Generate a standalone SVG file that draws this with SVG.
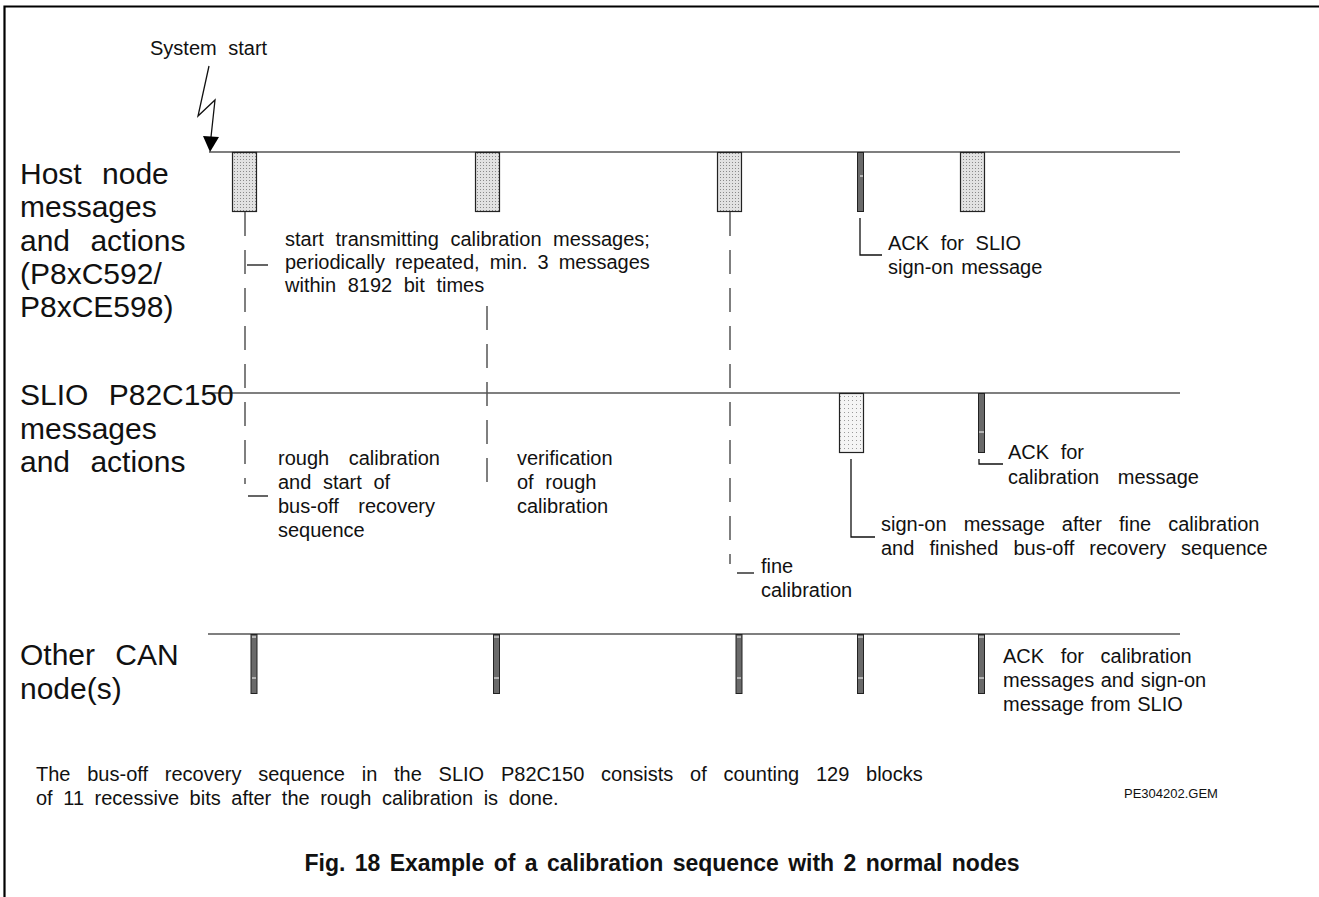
<svg xmlns="http://www.w3.org/2000/svg" width="1319" height="897" viewBox="0 0 1319 897">
<defs>
<style>
.t{font-family:"Liberation Sans",Arial,sans-serif;font-size:20px;word-spacing:6px;fill:#111}
.big{font-family:"Liberation Sans",Arial,sans-serif;font-size:30px;word-spacing:12px;fill:#111}
.cap{font-family:"Liberation Sans",Arial,sans-serif;font-size:23px;font-weight:bold;word-spacing:3px;fill:#111}
.small{font-family:"Liberation Sans",Arial,sans-serif;font-size:13px;fill:#111}
.lane{stroke:#555;stroke-width:1.6}
.box{fill:url(#dots);stroke:#222;stroke-width:1.2}
.box2{fill:url(#dotsL);stroke:#222;stroke-width:1.2}
.bar{fill:#6a6a6a;stroke:#222;stroke-width:1}
.tick{stroke:#fff;stroke-width:1}
.dash{stroke:#555;stroke-width:1.5;fill:none;stroke-dasharray:24 14}
.lead{stroke:#111;stroke-width:1.3;fill:none}
</style>
<pattern id="dots" width="3" height="3" patternUnits="userSpaceOnUse"><rect width="3" height="3" fill="#e2e2e2"/><rect width="1" height="1" fill="#8a8a8a"/></pattern>
<pattern id="dotsL" width="4" height="4" patternUnits="userSpaceOnUse"><rect width="4" height="4" fill="#f5f5f5"/><rect width="1" height="1" fill="#9a9a9a"/></pattern>
</defs>
<rect width="1319" height="897" fill="#fff"/>
<g id="frame" stroke="#000" stroke-width="2.2" fill="none">
<path d="M4.5,897 V6.5 H1319"/>
</g>
<g id="lanes">
<line class="lane" x1="209" y1="152" x2="1180" y2="152"/>
<line class="lane" x1="208" y1="393" x2="1180" y2="393"/>
<line class="lane" x1="208" y1="634" x2="1180" y2="634"/>
<text class="big" x="20" y="184">Host node</text>
<text class="big" x="20" y="217">messages</text>
<text class="big" x="20" y="251">and actions</text>
<text class="big" x="20" y="284">(P8xC592/</text>
<text class="big" x="20" y="317">P8xCE598)</text>
<text class="big" x="20" y="405">SLIO P82C150</text>
<text class="big" x="20" y="439">messages</text>
<text class="big" x="20" y="472">and actions</text>
<text class="big" x="20" y="665">Other CAN</text>
<text class="big" x="20" y="699">node(s)</text>
</g>
<g id="system-start">
<text class="t" x="150" y="55">System start</text>
<path d="M209,66 L198,116 L215,100 L211,137" stroke="#111" stroke-width="1.3" fill="none"/>
<polygon points="203,136 219,137 210,152" fill="#000"/>
</g>
<g id="host-msg1"><rect class="box" x="232.5" y="152.5" width="24" height="59"/></g>
<g id="host-msg2"><rect class="box" x="475.5" y="152.5" width="24" height="59"/></g>
<g id="host-msg3"><rect class="box" x="717.5" y="152.5" width="24" height="59"/></g>
<g id="host-ack"><rect class="bar" x="857.5" y="152.5" width="6" height="59"/><line class="tick" x1="860" y1="176" x2="863" y2="176"/></g>
<g id="host-msg4"><rect class="box" x="960.5" y="152.5" width="24" height="59"/></g>
<g id="slio-signon"><rect class="box2" x="839.5" y="393.5" width="24" height="59"/></g>
<g id="slio-ack"><rect class="bar" x="978.5" y="393.5" width="6" height="59"/><line class="tick" x1="979" y1="432" x2="984" y2="432"/></g>
<g id="other-ack1"><rect class="bar" x="251" y="634.5" width="6" height="59"/><line class="tick" x1="252" y1="637" x2="256" y2="637"/><line class="tick" x1="252" y1="678" x2="256" y2="678"/></g>
<g id="other-ack2"><rect class="bar" x="493.5" y="634.5" width="6" height="59"/><line class="tick" x1="494" y1="637" x2="499" y2="637"/><line class="tick" x1="494" y1="678" x2="499" y2="678"/></g>
<g id="other-ack3"><rect class="bar" x="736" y="634.5" width="6" height="59"/><line class="tick" x1="737" y1="637" x2="741" y2="637"/><line class="tick" x1="737" y1="678" x2="741" y2="678"/></g>
<g id="other-ack4"><rect class="bar" x="857.5" y="634.5" width="6" height="59"/><line class="tick" x1="858" y1="637" x2="863" y2="637"/><line class="tick" x1="858" y1="678" x2="863" y2="678"/></g>
<g id="other-ack5"><rect class="bar" x="978.5" y="634.5" width="6" height="59"/><line class="tick" x1="979" y1="637" x2="984" y2="637"/><line class="tick" x1="979" y1="678" x2="984" y2="678"/></g>
<g id="connectors">
<path class="dash" d="M245,212 V484"/>
<line class="lead" x1="247" y1="265" x2="268" y2="265"/>
<line class="lead" x1="248" y1="496" x2="268" y2="496"/>
<path class="dash" d="M487,306 V486 H496"/>
<path class="dash" d="M730,212 V564"/>
<line class="lead" x1="737" y1="573" x2="754" y2="573"/>
<path class="lead" d="M860,218 V255 H882"/>
<path class="lead" d="M851,459 V537 H875"/>
<path class="lead" d="M979,459 V464 H1003"/>
</g>
<g id="labels">
<text class="t" x="285" y="246">start transmitting calibration messages;</text>
<text class="t" x="285" y="269" style="word-spacing:4.5px">periodically repeated, min. 3 messages</text>
<text class="t" x="285" y="292">within 8192 bit times</text>
<text class="t" x="888" y="250" style="word-spacing:6px">ACK for SLIO</text>
<text class="t" x="888" y="274" style="word-spacing:2px">sign-on message</text>
<text class="t" x="278" y="465" style="word-spacing:14px">rough calibration</text>
<text class="t" x="278" y="489">and start of</text>
<text class="t" x="278" y="513" style="word-spacing:14px">bus-off recovery</text>
<text class="t" x="278" y="537">sequence</text>
<text class="t" x="517" y="465">verification</text>
<text class="t" x="517" y="489">of rough</text>
<text class="t" x="517" y="513">calibration</text>
<text class="t" x="1008" y="459">ACK for</text>
<text class="t" x="1008" y="484" style="word-spacing:13px">calibration message</text>
<text class="t" x="881" y="531" style="word-spacing:11.5px">sign-on message after fine calibration</text>
<text class="t" x="881" y="555" style="word-spacing:9.5px">and finished bus-off recovery sequence</text>
<text class="t" x="761" y="573">fine</text>
<text class="t" x="761" y="597">calibration</text>
<text class="t" x="1003" y="663" style="word-spacing:11px">ACK for calibration</text>
<text class="t" x="1003" y="687" style="word-spacing:1px">messages and sign-on</text>
<text class="t" x="1003" y="711" style="word-spacing:1px">message from SLIO</text>
<text class="t" x="36" y="781" style="word-spacing:11.2px">The bus-off recovery sequence in the SLIO P82C150 consists of counting 129 blocks</text>
<text class="t" x="36" y="805" style="word-spacing:5px">of 11 recessive bits after the rough calibration is done.</text>
<text class="small" x="1124" y="798">PE304202.GEM</text>
<text class="cap" x="662" y="871" text-anchor="middle">Fig. 18  Example of a calibration sequence with 2 normal nodes</text>
</g>
</svg>
